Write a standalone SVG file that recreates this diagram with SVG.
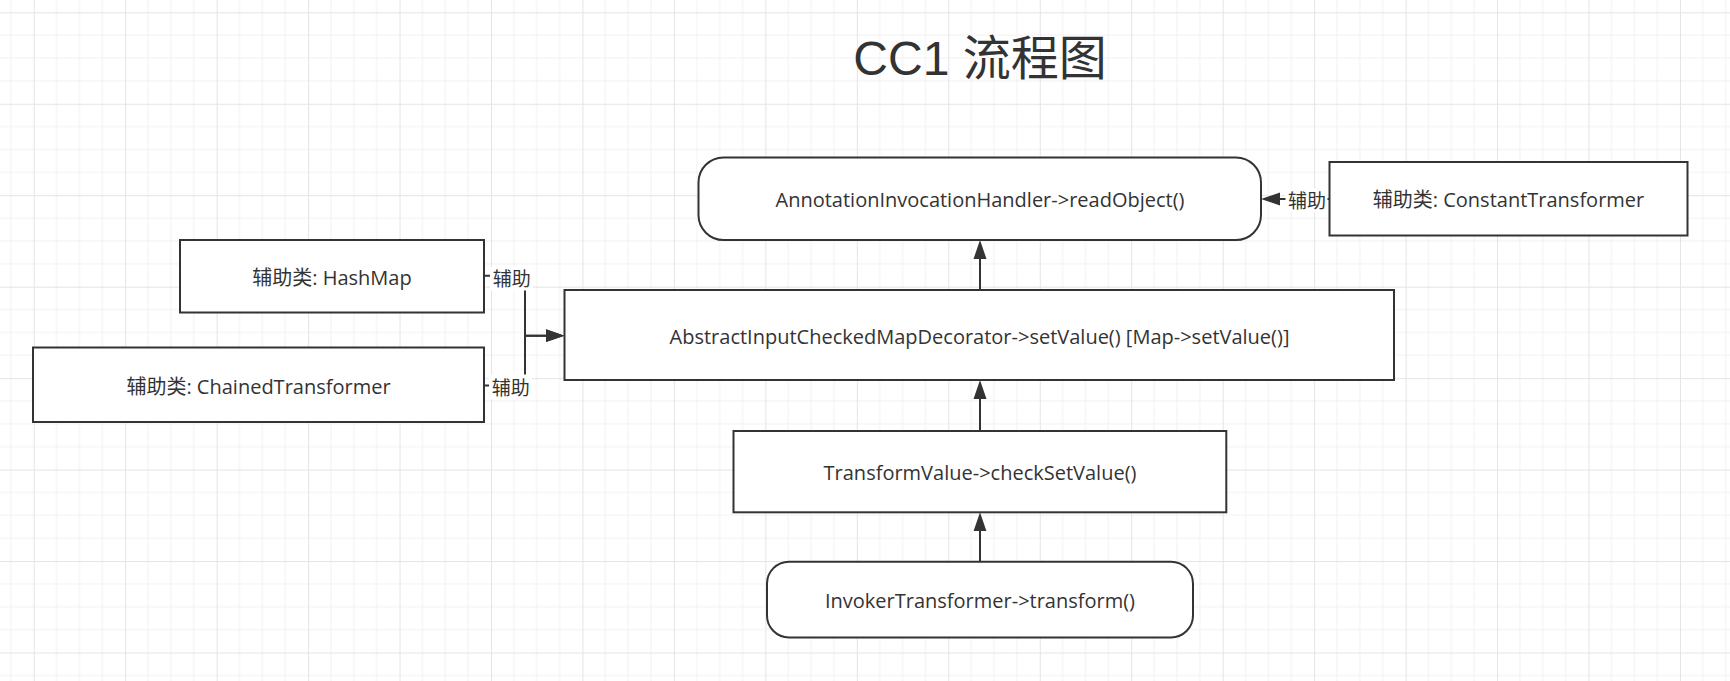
<svg xmlns="http://www.w3.org/2000/svg" width="1730" height="681" viewBox="0 0 1730 681">
  <style>
    .box { fill: #ffffff; stroke: #333333; stroke-width: 2; }
    .t { font-family: "Open Sans", "Noto Sans CJK SC", sans-serif; font-size: 20px; fill: #333333; text-anchor: middle; }
    .lbl { font-family: "Noto Sans CJK SC", sans-serif; font-size: 19px; fill: #333333; text-anchor: middle; }
    .lblbg { fill: #ffffff; stroke: none; }
    .edge { fill: none; stroke: #333333; stroke-width: 2; marker-end: url(#arrow); }
    .stub { fill: none; stroke: #333333; stroke-width: 2; }
    .title { font-family: "Liberation Sans", "Noto Sans CJK SC", sans-serif; font-size: 48px; fill: #333333; text-anchor: middle; }
  </style>
  <defs>
    <pattern id="grid" patternUnits="userSpaceOnUse" x="33.7" y="12.3" width="91.46" height="91.46">
      <path d="M22.865,0 V91.46 M45.73,0 V91.46 M68.595,0 V91.46 M0,22.865 H91.46 M0,45.73 H91.46 M0,68.595 H91.46" stroke="#f1f1f1" stroke-width="1" fill="none"/>
      <path d="M0.5,0 V91.46 M0,0.5 H91.46" stroke="#e4e4e4" stroke-width="1" fill="none"/>
    </pattern>
    <marker id="arrow" markerUnits="userSpaceOnUse" markerWidth="19" markerHeight="14" viewBox="0 0 19 14" refX="15" refY="7" orient="auto">
      <path d="M0,0.5 L19,7 L0,13.5 Z" fill="#333333"/>
    </marker>
  </defs>
  <rect x="0" y="0" width="1730" height="681" fill="#ffffff"/>
  <rect x="0" y="0" width="1730" height="681" fill="url(#grid)"/>

  <g id="title">
    <text class="title" x="980" y="75">CC1 流程图</text>
  </g>

  <g id="connectors">
    <path class="edge" d="M980,290 V244"/>
    <path class="edge" d="M980,431 V384"/>
    <path class="edge" d="M980,561.7 V516.3"/>
    <path class="edge" d="M1329.5,199 H1265"/>
    <path class="edge" d="M484,275.7 H525 V335.7 H560.5"/>
    <path class="edge" d="M484,385.5 H525 V335.7 H560.5"/>
    <g id="label-hashmap">
      <rect class="lblbg" x="490" y="267" width="43" height="23.5"/>
      <text class="lbl" x="511.7" y="286">辅助</text>
    </g>
    <g id="label-chained">
      <rect class="lblbg" x="489" y="374.5" width="43" height="25"/>
      <text class="lbl" x="510.8" y="394.5">辅助</text>
    </g>
    <g id="label-constant">
      <rect class="lblbg" x="1285.5" y="188" width="42" height="24"/>
      <text class="lbl" x="1307" y="207.5">辅助</text>
    </g>
  </g>

  <g id="node-annotation">
    <rect class="box" x="698.5" y="157.5" width="562.5" height="82.5" rx="25" ry="25"/>
    <text class="t" x="980" y="207.3">AnnotationInvocationHandler-&gt;readObject()</text>
  </g>
  <g id="node-constant">
    <rect class="box" x="1329.5" y="162" width="358" height="73.5"/>
    <text class="t" x="1508.5" y="207.3">辅助类: ConstantTransformer</text>
  </g>
  <g id="node-hashmap">
    <rect class="box" x="180" y="240" width="304" height="72.5"/>
    <text class="t" x="332" y="285">辅助类: HashMap</text>
  </g>
  <g id="node-chained">
    <rect class="box" x="33" y="347.5" width="451" height="74.5"/>
    <text class="t" x="258.5" y="393.5">辅助类: ChainedTransformer</text>
  </g>
  <g id="node-decorator">
    <rect class="box" x="564.5" y="290" width="829.5" height="90"/>
    <text class="t" x="979.5" y="343.5">AbstractInputCheckedMapDecorator-&gt;setValue() [Map-&gt;setValue()]</text>
  </g>
  <g id="node-transform">
    <rect class="box" x="733.5" y="431" width="492.8" height="81.3"/>
    <text class="t" x="980" y="479.5">TransformValue-&gt;checkSetValue()</text>
  </g>
  <g id="node-invoker">
    <rect class="box" x="767" y="561.7" width="426" height="75.8" rx="22" ry="22"/>
    <text class="t" x="980" y="608.3">InvokerTransformer-&gt;transform()</text>
  </g>
</svg>
